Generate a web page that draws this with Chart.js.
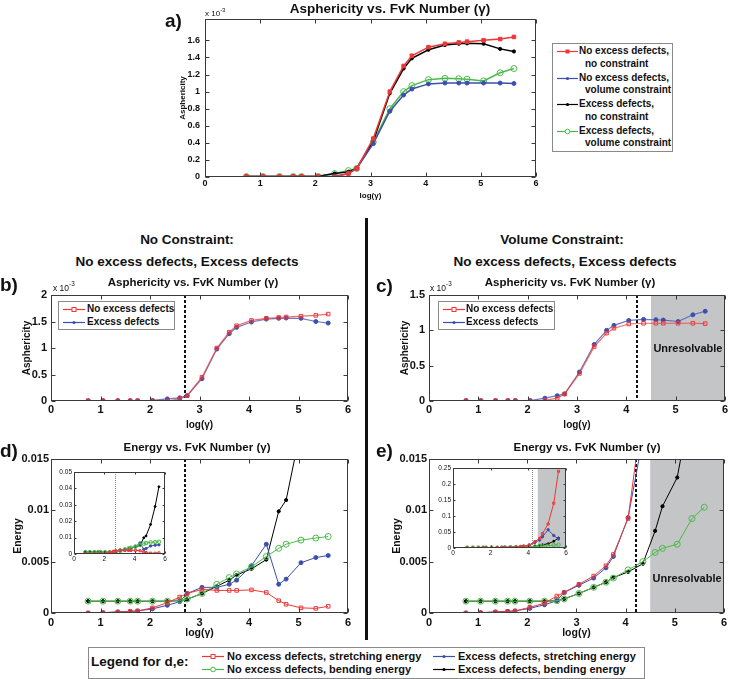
<!DOCTYPE html>
<html>
<head>
<meta charset="utf-8">
<script src="https://cdn.jsdelivr.net/npm/chart.js@4.4.0/dist/chart.umd.min.js"></script>
<style>
  body { margin: 0; background: #fff; }
  #page { position: relative; width: 730px; height: 679px; overflow: hidden; font-family: "Liberation Sans", Arial, sans-serif; color: #111; }
  #page canvas { position: absolute; }
  .txt { position: absolute; white-space: nowrap; transform: translate(-50%, -50%); font-weight: bold; line-height: 1; }
  .lt { position: absolute; white-space: nowrap; transform: translateY(-50%); font-weight: bold; line-height: 1; }
  .box { position: absolute; border: 1px solid #8a8a8a; background: #fff; box-sizing: border-box; }
  .smp { position: absolute; transform: translateY(-50%); }
  sup { font-size: 75%; position: relative; top: -1px; }
  #divider { position: absolute; left: 365px; top: 218px; width: 3px; height: 422px; background: #111; }
</style>
</head>
<body>
<div id="page">
  <canvas id="chartA"></canvas>
  <canvas id="chartB"></canvas>
  <canvas id="chartC"></canvas>
  <canvas id="chartD"></canvas>
  <canvas id="chartE"></canvas>
  <div id="divider"></div>

  <div class="lt" style="left:165px;top:20px;font-size:19px">a)</div>
  <div class="txt" style="left:390px;top:9px;font-size:13.5px">Asphericity vs. FvK Number (γ)</div>
  <div class="lt" style="left:205px;top:13px;font-size:8px;font-weight:normal">x 10<sup>-3</sup></div>

  <div class="txt" style="left:187px;top:240px;font-size:13.5px">No Constraint:</div>
  <div class="txt" style="left:187px;top:262px;font-size:13.5px">No excess defects, Excess defects</div>
  <div class="txt" style="left:562px;top:240px;font-size:13.5px">Volume Constraint:</div>
  <div class="txt" style="left:565px;top:262px;font-size:13.5px">No excess defects, Excess defects</div>

  <div class="lt" style="left:0px;top:284px;font-size:19px">b)</div>
  <div class="txt" style="left:193px;top:283px;font-size:11.5px">Asphericity vs. FvK Number (γ)</div>
  <div class="lt" style="left:53px;top:287px;font-size:8.5px;font-weight:normal">x 10<sup>-3</sup></div>

  <div class="lt" style="left:376px;top:285px;font-size:19px">c)</div>
  <div class="txt" style="left:570px;top:283px;font-size:11.5px">Asphericity vs. FvK Number (γ)</div>
  <div class="lt" style="left:430px;top:287px;font-size:8.5px;font-weight:normal">x 10<sup>-3</sup></div>

  <div class="lt" style="left:0px;top:450px;font-size:19px">d)</div>
  <div class="txt" style="left:197px;top:448px;font-size:11.5px">Energy vs. FvK Number (γ)</div>

  <div class="lt" style="left:376px;top:450px;font-size:19px">e)</div>
  <div class="txt" style="left:587px;top:448px;font-size:11.5px">Energy vs. FvK Number (γ)</div>

  <canvas id="insetD"></canvas>
  <canvas id="insetE"></canvas>
  <div id="legends"></div>
</div>

<script>
// log10 of the FvK number, shared by every series
const logGamma = [0.75, 1.05, 1.35, 1.6, 1.75, 2.05, 2.35, 2.6, 2.75, 3.05, 3.35, 3.6, 3.75, 4.05, 4.35, 4.6, 4.75, 5.05, 5.35, 5.6];

// asphericity, in units of 1e-3
const asphNoExcessNoCon = [0.005, 0.005, 0.005, 0.005, 0.005, 0.005, 0.0, 0.04, 0.1, 0.45, 1.0, 1.3, 1.42, 1.52, 1.56, 1.575, 1.585, 1.6, 1.615, 1.64];
const asphNoExcessVol = [0.005, 0.005, 0.005, 0.005, 0.005, 0.005, 0.01, 0.04, 0.1, 0.39, 0.77, 0.96, 1.03, 1.09, 1.1, 1.1, 1.1, 1.1, 1.1, 1.095];
const asphExcessNoCon = [0.005, 0.005, 0.005, 0.005, 0.005, 0.01, 0.04, 0.06, 0.1, 0.42, 0.98, 1.27, 1.39, 1.49, 1.545, 1.56, 1.565, 1.56, 1.5, 1.47];
const asphExcessVol = [0.005, 0.005, 0.005, 0.005, 0.005, 0.005, 0.04, 0.075, 0.1, 0.41, 0.8, 1.0, 1.07, 1.14, 1.155, 1.15, 1.145, 1.125, 1.22, 1.27];

// energies, no constraint (panel d)
const eStretchNoExcessNC = [0, 0.00003, 0.0001, 0.00015, 0.0002, 0.0005, 0.001, 0.00155, 0.0019, 0.0023, 0.0022, 0.0022, 0.0022, 0.00225, 0.002, 0.0012, 0.00085, 0.0005, 0.00045, 0.00065];
const eBendNoExcessNC = [0.00115, 0.00115, 0.00115, 0.00115, 0.00115, 0.00115, 0.00115, 0.00125, 0.00135, 0.0019, 0.0028, 0.00345, 0.0038, 0.0045, 0.0055, 0.0063, 0.0067, 0.0071, 0.0073, 0.00745];
const eStretchExcessNC = [0, 0.00003, 0.0001, 0.00015, 0.0002, 0.0004, 0.00075, 0.0011, 0.0019, 0.0025, 0.0025, 0.0028, 0.0032, 0.0046, 0.0067, 0.0028, 0.0033, 0.0049, 0.0054, 0.0056];
const eBendExcessNC = [0.00115, 0.00115, 0.00115, 0.00115, 0.00115, 0.00115, 0.00115, 0.0012, 0.00133, 0.0019, 0.0026, 0.0032, 0.0037, 0.0043, 0.0052, 0.0099, 0.011, 0.018, 0.029, 0.041];

// energies, volume constraint (panel e)
const eStretchNoExcessVC = [0, 0.00003, 0.0001, 0.00015, 0.0002, 0.00055, 0.00095, 0.00165, 0.002, 0.0028, 0.0036, 0.0046, 0.0057, 0.0092, 0.02, 0.03, 0.045, 0.075, 0.14, 0.24];
const eBendNoExcessVC = [0.00115, 0.00115, 0.00115, 0.00115, 0.00115, 0.00115, 0.00115, 0.0012, 0.00137, 0.0019, 0.0025, 0.003, 0.0034, 0.0042, 0.005, 0.0059, 0.0063, 0.0067, 0.0092, 0.0103];
const eStretchExcessVC = [0, 0.00003, 0.0001, 0.00015, 0.0002, 0.00045, 0.0008, 0.0012, 0.002, 0.0027, 0.0034, 0.0044, 0.0055, 0.0093, 0.017, 0.025, 0.035, 0.057, 0.039, 0.028];
const eBendExcessVC = [0.00115, 0.00115, 0.00115, 0.00115, 0.00115, 0.00115, 0.00115, 0.0012, 0.00137, 0.0019, 0.0025, 0.003, 0.00345, 0.004, 0.0048, 0.008, 0.0104, 0.0132, 0.021, 0.031];

const limitNoCon = 2.7;
const limitVol = 4.22;
const unresolvableFrom = 4.5;

const RED = '#ec3838', BLUE = '#3b4fae', BLACK = '#000', GREEN = '#4cba48';
const FONT = '"Liberation Sans", Arial, sans-serif';
Chart.defaults.font.family = FONT;

function pts(vals) {
    return logGamma.map((x, i) => ({ x: x, y: vals[i] }));
}

function series(vals, color, mark, width, r, lineColor) {
    const s = {
        data: pts(vals), borderColor: lineColor || color, borderWidth: width, tension: 0,
        pointBorderColor: color, pointBorderWidth: 1, pointRadius: r, pointBackgroundColor: color,
        pointStyle: 'circle'
    };
    if (mark === 'sq') s.pointStyle = 'rect';
    if (mark === 'sqo') { s.pointStyle = 'rect'; s.pointBackgroundColor = 'rgba(0,0,0,0)'; }
    if (mark === 'circo') s.pointBackgroundColor = 'rgba(0,0,0,0)';
    return s;
}

// matlab style box, inward ticks, shaded region and limit line
const matlabAxes = {
    id: 'matlabAxes',
    beforeDatasetsDraw(chart, args, o) {
        const { ctx, chartArea: a, scales: { x } } = chart;
        ctx.save();
        if (o.bg) {
            ctx.fillStyle = '#fff';
            ctx.fillRect(a.left, a.top, a.right - a.left, a.bottom - a.top);
        }
        if (o.shadeFrom != null) {
            const sx = x.getPixelForValue(o.shadeFrom);
            ctx.fillStyle = '#c4c5c7';
            ctx.fillRect(sx, a.top, a.right - sx, a.bottom - a.top);
        }
        if (o.limitAt != null) {
            const lx = Math.round(x.getPixelForValue(o.limitAt)) + (o.limitWidth % 2 ? 0.5 : 0);
            ctx.strokeStyle = o.limitColor;
            ctx.lineWidth = o.limitWidth;
            ctx.setLineDash(o.limitDash);
            ctx.beginPath();
            ctx.moveTo(lx, a.top);
            ctx.lineTo(lx, a.bottom);
            ctx.stroke();
        }
        ctx.restore();
    },
    afterDatasetsDraw(chart, args, o) {
        const { ctx, chartArea: a, scales: { x, y } } = chart;
        ctx.save();
        if (o.label) {
            const sx = x.getPixelForValue(o.shadeFrom);
            ctx.fillStyle = '#111';
            ctx.font = 'bold 11px ' + FONT;
            ctx.textAlign = 'center';
            ctx.textBaseline = 'middle';
            ctx.fillText(o.label, (sx + a.right) / 2, a.top + (a.bottom - a.top) * o.labelAt);
        }
        const L = Math.round(a.left) + 0.5, R = Math.round(a.right) - 0.5;
        const T = Math.round(a.top) + 0.5, B = Math.round(a.bottom) - 0.5;
        ctx.strokeStyle = '#3a3a3a';
        ctx.lineWidth = 1;
        ctx.strokeRect(L, T, R - L, B - T);
        const n = o.tick || 4;
        ctx.beginPath();
        x.ticks.forEach(t => {
            const p = Math.round(x.getPixelForValue(t.value)) + 0.5;
            ctx.moveTo(p, B); ctx.lineTo(p, B - n);
            ctx.moveTo(p, T); ctx.lineTo(p, T + n);
        });
        y.ticks.forEach(t => {
            const p = Math.round(y.getPixelForValue(t.value)) + 0.5;
            ctx.moveTo(L, p); ctx.lineTo(L + n, p);
            ctx.moveTo(R, p); ctx.lineTo(R - n, p);
        });
        ctx.stroke();
        ctx.restore();
    }
};

const fmt = v => String(Math.round(v * 1e6) / 1e6);

function panel(id, box, cfg) {
    const cv = document.getElementById(id);
    cv.width = box.w;
    cv.height = box.h;
    cv.style.left = box.left + 'px';
    cv.style.top = box.top + 'px';
    const tickFont = { size: cfg.tickSize, weight: cfg.tickWeight || 'bold' };
    const titleFont = { size: cfg.titleSize, weight: 'bold' };
    return new Chart(cv, {
        type: 'line',
        data: { datasets: cfg.datasets },
        options: {
            responsive: false,
            animation: false,
            devicePixelRatio: 1,
            layout: { padding: { top: box.padTop, right: box.padRight, left: 0, bottom: 0 } },
            plugins: { legend: { display: false }, tooltip: { enabled: false }, matlabAxes: cfg.marks },
            scales: {
                x: {
                    type: 'linear', min: 0, max: 6,
                    afterFit: s => { s.height = box.xh; },
                    grid: { display: false, drawTicks: false },
                    border: { display: false },
                    ticks: { stepSize: cfg.xStep, font: tickFont, color: '#111', padding: cfg.xPad, maxRotation: 0, autoSkip: false, callback: fmt },
                    title: cfg.xTitle
                        ? { display: true, text: 'log(γ)', font: titleFont, color: '#111', padding: { top: 0, bottom: cfg.xTitle } }
                        : { display: false }
                },
                y: {
                    type: 'linear', min: 0, max: cfg.yMax,
                    afterFit: s => { s.width = box.yw; },
                    afterBuildTicks: s => { s.ticks = s.ticks.filter(t => t.value <= cfg.yTop + 1e-9); },
                    grid: { display: false, drawTicks: false },
                    border: { display: false },
                    ticks: { stepSize: cfg.yStep, font: tickFont, color: '#111', padding: cfg.yPad, autoSkip: false, callback: fmt },
                    title: cfg.yTitle
                        ? { display: true, text: cfg.yTitle, font: titleFont, color: '#111', padding: { top: cfg.yTitlePad, bottom: 0 } }
                        : { display: false }
                }
            }
        },
        plugins: [matlabAxes]
    });
}

// a) all four asphericity curves
panel('chartA', { left: 150, top: 0, w: 400, h: 210, padTop: 19, padRight: 14, yw: 55, xh: 33 }, {
    datasets: [
        series(asphNoExcessNoCon, RED, 'sq', 1.5, 2.5),
        series(asphNoExcessVol, BLUE, 'dot', 1.5, 2),
        series(asphExcessNoCon, BLACK, 'dot', 1.5, 1.6),
        series(asphExcessVol, GREEN, 'circo', 1.5, 3)
    ],
    tickSize: 9, titleSize: 8, xStep: 1, xPad: 1, yStep: 0.2, yMax: 1.85, yTop: 1.6, yPad: 5,
    xTitle: 9, yTitle: 'Asphericity', yTitlePad: 28,
    marks: {}
});

// b) no constraint
panel('chartB', { left: 0, top: 270, w: 362, h: 165, padTop: 25, padRight: 14, yw: 51, xh: 34 }, {
    datasets: [
        series(asphNoExcessNoCon, RED, 'sqo', 1.2, 2.5, 'rgba(236,56,56,0.75)'),
        series(asphExcessNoCon, BLUE, 'dot', 1.2, 2, 'rgba(59,79,174,0.75)')
    ],
    tickSize: 11, titleSize: 10, xStep: 1, xPad: 2, yStep: 0.5, yMax: 2, yTop: 2, yPad: 4,
    xTitle: 4, yTitle: 'Asphericity', yTitlePad: 21,
    marks: { limitAt: limitNoCon, limitColor: '#111', limitWidth: 2, limitDash: [3, 2] }
});

// c) volume constraint
panel('chartC', { left: 365, top: 270, w: 365, h: 165, padTop: 25, padRight: 3, yw: 64, xh: 34 }, {
    datasets: [
        series(asphNoExcessVol, RED, 'sqo', 1.2, 2.5, 'rgba(236,56,56,0.75)'),
        series(asphExcessVol, BLUE, 'dot', 1.2, 2, 'rgba(59,79,174,0.75)')
    ],
    tickSize: 11, titleSize: 10, xStep: 1, xPad: 2, yStep: 0.5, yMax: 1.5, yTop: 1.5, yPad: 4,
    xTitle: 4, yTitle: 'Asphericity', yTitlePad: 34,
    marks: { limitAt: limitVol, limitColor: '#111', limitWidth: 2, limitDash: [3, 2], shadeFrom: unresolvableFrom, label: 'Unresolvable', labelAt: 0.51 }
});

function energySets(st0, bd0, st1, bd1, k) {
    return [
        series(st0, RED, 'sqo', 1, 2.5 * k),
        series(bd0, GREEN, 'circo', 1, 3 * k),
        series(st1, BLUE, 'dot', 1, 2 * k),
        series(bd1, BLACK, 'dot', 1, 1.6 * k)
    ];
}

// d) energies, no constraint
panel('chartD', { left: 0, top: 430, w: 362, h: 210, padTop: 29, padRight: 14, yw: 51, xh: 27 }, {
    datasets: energySets(eStretchNoExcessNC, eBendNoExcessNC, eStretchExcessNC, eBendExcessNC, 1),
    tickSize: 11, titleSize: 10.5, xStep: 1, xPad: 3, yStep: 0.005, yMax: 0.015, yTop: 0.015, yPad: 2,
    xTitle: 1, yTitle: 'Energy', yTitlePad: 12,
    marks: { limitAt: limitNoCon, limitColor: '#111', limitWidth: 2, limitDash: [3, 2] }
});

// e) energies, volume constraint
panel('chartE', { left: 365, top: 430, w: 365, h: 210, padTop: 29, padRight: 3, yw: 64, xh: 27 }, {
    datasets: energySets(eStretchNoExcessVC, eBendNoExcessVC, eStretchExcessVC, eBendExcessVC, 1),
    tickSize: 11, titleSize: 10.5, xStep: 1, xPad: 3, yStep: 0.005, yMax: 0.015, yTop: 0.015, yPad: 2,
    xTitle: 1, yTitle: 'Energy', yTitlePad: 26,
    marks: { limitAt: limitVol, limitColor: '#111', limitWidth: 2, limitDash: [3, 2], shadeFrom: unresolvableFrom, label: 'Unresolvable', labelAt: 0.78 }
});

// insets: full range
panel('insetD', { left: 52, top: 466, w: 118, h: 100, padTop: 6, padRight: 4, yw: 22, xh: 12 }, {
    datasets: energySets(eStretchNoExcessNC, eBendNoExcessNC, eStretchExcessNC, eBendExcessNC, 0.6),
    tickSize: 6.5, tickWeight: 'normal', xStep: 2, xPad: 1, yStep: 0.01, yMax: 0.05, yTop: 0.05, yPad: 2,
    marks: { bg: true, tick: 2, limitAt: limitNoCon, limitColor: '#888', limitWidth: 1, limitDash: [1, 1] }
});

panel('insetE', { left: 428, top: 462, w: 143, h: 100, padTop: 6, padRight: 4, yw: 25, xh: 14 }, {
    datasets: energySets(eStretchNoExcessVC, eBendNoExcessVC, eStretchExcessVC, eBendExcessVC, 0.6),
    tickSize: 6.5, tickWeight: 'normal', xStep: 2, xPad: 1, yStep: 0.05, yMax: 0.25, yTop: 0.25, yPad: 2,
    marks: { bg: true, tick: 2, limitAt: limitVol, limitColor: '#888', limitWidth: 1, limitDash: [1, 1], shadeFrom: unresolvableFrom }
});

// legends (html)
function sample(color, mark, w) {
    let m = '';
    const c = w / 2;
    if (mark === 'sq') m = `<rect x="${c - 2}" y="2.5" width="4" height="4" fill="${color}"/>`;
    if (mark === 'sqo') m = `<rect x="${c - 2}" y="2.5" width="4" height="4" fill="#fff" stroke="${color}"/>`;
    if (mark === 'dot') m = `<circle cx="${c}" cy="4.5" r="1.6" fill="${color}"/>`;
    if (mark === 'circo') m = `<circle cx="${c}" cy="4.5" r="2.3" fill="#fff" stroke="${color}"/>`;
    return `<svg width="${w}" height="9"><line x1="0" y1="4.5" x2="${w}" y2="4.5" stroke="${color}" stroke-width="1.2"/>${m}</svg>`;
}

const legendA = [
    { lines: ['No excess defects,', 'no constraint'], color: RED, mark: 'sq' },
    { lines: ['No excess defects,', 'volume constraint'], color: BLUE, mark: 'dot' },
    { lines: ['Excess defects,', 'no constraint'], color: BLACK, mark: 'dot' },
    { lines: ['Excess defects,', 'volume constraint'], color: GREEN, mark: 'circo' }
];
const legendBC = [
    { label: 'No excess defects', color: RED, mark: 'sqo' },
    { label: 'Excess defects', color: BLUE, mark: 'dot' }
];
const legendDE = [
    { label: 'No excess defects, stretching energy', color: RED, mark: 'sqo' },
    { label: 'No excess defects, bending energy', color: GREEN, mark: 'circo' },
    { label: 'Excess defects, stretching energy', color: BLUE, mark: 'dot' },
    { label: 'Excess defects, bending energy', color: BLACK, mark: 'dot' }
];

let html = '';
html += '<div class="box" style="left:552px;top:43px;width:121px;height:109px"></div>';
legendA.forEach((e, i) => {
    const y = 51 + i * 26.5;
    html += `<div class="smp" style="left:557px;top:${y}px">${sample(e.color, e.mark, 21)}</div>`;
    html += `<div class="lt" style="left:579px;top:${y}px;font-size:10px">${e.lines[0]}</div>`;
    html += `<div class="lt" style="left:585px;top:${y + 12.5}px;font-size:10px">${e.lines[1]}</div>`;
});

[[58, 63, 87], [438, 443, 466]].forEach(([bx, sx, tx]) => {
    html += `<div class="box" style="left:${bx}px;top:301px;width:117px;height:29px"></div>`;
    legendBC.forEach((e, i) => {
        const y = 309 + i * 13;
        html += `<div class="smp" style="left:${sx}px;top:${y}px">${sample(e.color, e.mark, 22)}</div>`;
        html += `<div class="lt" style="left:${tx}px;top:${y}px;font-size:10px">${e.label}</div>`;
    });
});

html += '<div class="box" style="left:88px;top:647px;width:557px;height:32px"></div>';
html += '<div class="lt" style="left:91px;top:662px;font-size:13.5px">Legend for d,e:</div>';
legendDE.forEach((e, i) => {
    const col = Math.floor(i / 2), row = i % 2;
    const y = 656 + row * 12.5;
    const sx = col ? 433 : 202;
    html += `<div class="smp" style="left:${sx}px;top:${y}px">${sample(e.color, e.mark, 22)}</div>`;
    html += `<div class="lt" style="left:${sx + 25}px;top:${y}px;font-size:11px">${e.label}</div>`;
});
document.getElementById('legends').innerHTML = html;
</script>
</body>
</html>
